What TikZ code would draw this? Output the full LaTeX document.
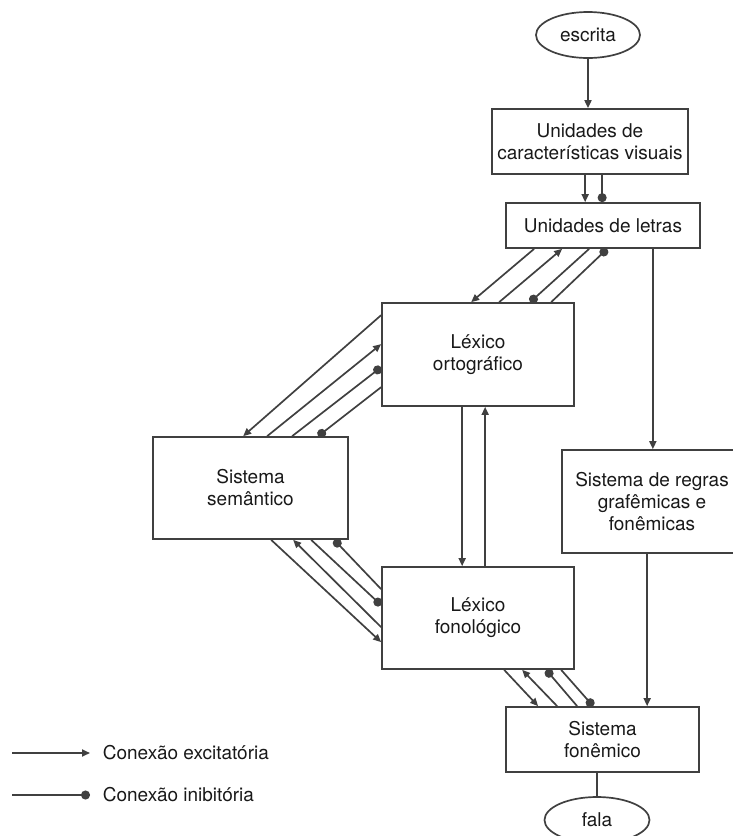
\documentclass[tikz,border=0pt]{standalone}
\usepackage{fontspec}
\setmainfont{TeX Gyre Heros}
\usetikzlibrary{arrows.meta,shapes.geometric}
\definecolor{linegray}{gray}{0.25}
\definecolor{textgray}{gray}{0.1}

\begin{document}
\begin{tikzpicture}[x=1pt, y=-1pt, line width=1.7pt, color=linegray,
	every node/.style={font=\fontsize{19}{22}\selectfont, text=textgray, align=center},
	box/.style={draw, rectangle, inner sep=0pt},
	oval/.style={draw, ellipse, inner sep=0pt},
	exc/.style={-{Triangle[length=8pt,width=7pt]}},
	inh/.style={-{Circle[length=9pt]}}]

	\useasboundingbox (0,0) rectangle (733,836);

	% Boxes
	\node[oval, minimum width=104pt, minimum height=46pt] (escrita) at (588,35) {escrita};
	\node[box, minimum width=196pt, minimum height=65pt] (visuais) at (590,141.5) {Unidades de\\características visuais};
	\node[box, minimum width=194pt, minimum height=45pt] (letras) at (603,225.5) {Unidades de letras};
	\node[box, minimum width=192pt, minimum height=103pt] (ortho) at (478,354.5) {Léxico\\ortográfico};
	\node[box, minimum width=195pt, minimum height=102pt] (sem) at (250.5,488) {Sistema\\semântico};
	\node[box, minimum width=192pt, minimum height=102pt] (fono) at (478,618) {Léxico\\fonológico};
	\node[box, minimum width=180pt, minimum height=103pt] (regras) at (652,501.5) {Sistema de regras\\grafêmicas e\\fonêmicas};
	\node[box, minimum width=193pt, minimum height=65pt] (fonem) at (602.5,739.5) {Sistema\\fonêmico};
	\node[oval, minimum width=105pt, minimum height=46pt] (fala) at (597,820) {fala};

	% Vertical connections
	\draw[exc] (escrita.south) -- (escrita.south |- visuais.north);
	\coordinate (vl1) at ([xshift=94pt]visuais.south west);
	\coordinate (vl2) at ([xshift=111pt]visuais.south west);
	\draw[exc] (vl1) -- (vl1 |- letras.north);
	\draw[inh] (vl2) -- (vl2 |- letras.north);
	\coordinate (lr) at ([xshift=-48pt]letras.south east);
	\draw[exc] (lr) -- (lr |- regras.north);
	\coordinate (rf) at ([xshift=86pt]regras.south west);
	\draw[exc] (rf) -- (rf |- fonem.north);
	\draw (fonem.south -| fala.north) -- (fala.north);
	\coordinate (od) at ([xshift=81pt]ortho.south west);
	\coordinate (ou) at ([xshift=104pt]ortho.south west);
	\draw[exc] (od) -- (od |- fono.north);
	\draw[exc] (ou |- fono.north) -- (ou);

	% Letras and ortografico
	\draw[exc] ([xshift=29pt]letras.south west) -- ([xshift=90pt]ortho.north west);
	\draw[exc] ([xshift=118pt]ortho.north west) -- ([xshift=57pt]letras.south west);
	\draw[inh] ([xshift=84pt]letras.south west) -- ([xshift=149pt]ortho.north west);
	\draw[inh] ([xshift=170pt]ortho.north west) -- ([xshift=102pt]letras.south west);

	% Ortografico and semantico
	\draw[exc] ([yshift=-13pt]ortho.north west) -- ([xshift=91pt]sem.north west);
	\draw[exc] ([xshift=115pt]sem.north west) -- ([yshift=-42pt]ortho.north west);
	\draw[inh] ([xshift=140pt]sem.north west) -- ([yshift=-65pt]ortho.north west);
	\draw[inh] ([yshift=-85pt]ortho.north west) -- ([xshift=166pt]sem.north west);

	% Semantico and fonologico
	\draw[exc] ([xshift=119pt]sem.south west) -- ([yshift=-76pt]fono.north west);
	\draw[exc] ([yshift=-61pt]fono.north west) -- ([xshift=141pt]sem.south west);
	\draw[inh] ([xshift=159pt]sem.south west) -- ([yshift=-39pt]fono.north west);
	\draw[inh] ([yshift=-23pt]fono.north west) -- ([xshift=182pt]sem.south west);

	% Fonologico and fonemico
	\draw[exc] ([xshift=123pt]fono.south west) -- ([xshift=33pt]fonem.north west);
	\draw[exc] ([xshift=52pt]fonem.north west) -- ([xshift=141pt]fono.south west);
	\draw[inh] ([xshift=72pt]fonem.north west) -- ([xshift=165pt]fono.south west);
	\draw[inh] ([xshift=180pt]fono.south west) -- ([xshift=88pt]fonem.north west);

	% Legend
	\node[anchor=west, inner sep=0pt] (lexc) at (102,753) {Conexão excitatória};
	\node[anchor=west, inner sep=0pt] (linh) at (102,795) {Conexão inibitória};
	\coordinate (lexcstart) at (12,753);
	\coordinate (linhstart) at (12,795);
	\draw[exc] (lexcstart) -- ([xshift=-12pt]lexc.west);
	\draw[inh] (linhstart) -- ([xshift=-12pt]linh.west);
\end{tikzpicture}
\end{document}
